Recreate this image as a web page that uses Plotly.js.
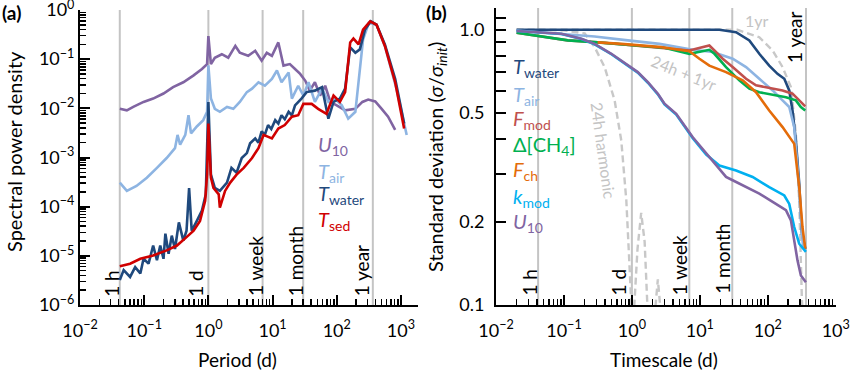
<!DOCTYPE html>
<html><head><meta charset="utf-8">
<script src="https://cdn.plot.ly/plotly-3.0.1.min.js"></script>
<style>html,body{margin:0;padding:0;background:#fff}#chart{width:850px;height:371px}</style>
</head><body><div id="chart"></div>
<script>
// reference timescales (days) and labels
const refLines = [1/24, 1, 7, 30, 365];
const refLabels = ['1 h', '1 d', '1 week', '1 month', '1 year'];

// ---------- Panel (a): spectral power density vs period (d) ----------
const u10Period = [0.0417,0.0537,0.0676,0.0977,0.138,0.200,0.282,0.407,0.589,0.794,0.955,1.0,1.096,1.26,1.62,2.04,2.63,3.09,4.17,5.37,6.76,8.13,9.77,12.3,14.8,18.6,22.4,26.9,32.4,38.0,45.7,55.0,66.1,79.4,100,135,195,251,309,398,501,631,813];
const u10Psd = [9.77e-3,9.12e-3,1.07e-2,1.35e-2,1.58e-2,2.00e-2,2.69e-2,3.39e-2,4.68e-2,6.31e-2,7.94e-2,0.295,7.94e-2,0.107,0.126,0.107,0.186,0.135,0.117,0.148,9.33e-2,0.135,0.117,0.219,7.41e-2,7.94e-2,6.31e-2,5.01e-2,3.63e-2,2.29e-2,3.39e-2,1.82e-2,2.88e-2,1.35e-2,1.15e-2,9.12e-3,9.77e-3,1.35e-2,1.51e-2,1.38e-2,9.77e-3,6.76e-3,3.63e-3];

const tairPeriod = [0.0417,0.0537,0.0759,0.110,0.158,0.224,0.302,0.331,0.363,0.437,0.490,0.537,0.661,0.832,0.955,1.0,1.096,1.26,1.51,1.95,2.45,3.09,3.98,4.79,6.03,7.59,9.77,11.7,13.8,17.8,20.0,25.1,30.2,36.3,45.7,58.9,74.1,93.3,120,151,195,229,257,316,417,562,851,1230];
const tairPsd = [3.09e-4,2.09e-4,2.63e-4,3.89e-4,6.17e-4,9.77e-4,1.55e-3,2.88e-3,1.82e-3,2.88e-3,7.24e-3,3.09e-3,4.27e-3,5.75e-3,8.51e-3,7.5e-2,1.58e-2,9.77e-3,8.51e-3,1.07e-2,9.77e-3,1.35e-2,2.14e-2,2.51e-2,3.39e-2,2.88e-2,3.98e-2,5.89e-2,3.39e-2,5.37e-2,1.58e-2,2.88e-2,1.82e-2,3.39e-2,1.35e-2,2.51e-2,1.35e-2,1.58e-2,1.15e-2,6.17e-3,8.51e-3,6.31e-2,0.251,0.550,0.501,0.186,2.51e-2,2.88e-3];

const twaterPeriod = [0.0417,0.0479,0.0603,0.0724,0.0871,0.0977,0.117,0.138,0.158,0.178,0.200,0.214,0.240,0.269,0.302,0.347,0.407,0.457,0.501,0.550,0.661,0.794,0.912,1.0,1.096,1.26,1.51,1.95,2.29,2.75,3.31,3.98,4.47,5.37,6.03,6.76,7.59,8.51,9.55,11.0,12.3,13.8,15.5,17.8,20.0,22.4,28.2,33.9,45.7,58.9,74.1,89.1,112,135,162,195,229,275,339,417,562,813,1122];
const twaterPsd = [3.24e-6,5.13e-6,3.72e-6,5.89e-6,4.37e-6,8.71e-6,6.92e-6,1.62e-5,8.13e-6,1.62e-5,8.71e-6,2.82e-5,1.10e-5,2.57e-5,1.38e-5,4.79e-5,2.04e-5,3.24e-5,2.40e-4,3.24e-5,5.13e-5,8.32e-5,1.78e-4,1.35e-2,4.47e-4,2.40e-4,2.09e-4,3.09e-4,6.17e-4,4.90e-4,9.77e-4,1.23e-3,1.95e-3,2.45e-3,2.00e-3,3.39e-3,2.90e-3,4.57e-3,3.80e-3,5.75e-3,4.90e-3,7.24e-3,6.00e-3,8.51e-3,7.2e-3,1.15e-2,1.58e-2,2.14e-2,2.29e-2,2.69e-2,6.17e-3,1.35e-2,1.58e-2,2.51e-2,0.174,0.135,0.158,0.398,0.589,0.501,0.200,3.98e-2,4.90e-3];

const tsedPeriod = [0.0417,0.0603,0.0871,0.138,0.224,0.324,0.457,0.589,0.741,0.891,0.955,1.0,1.096,1.20,1.45,1.51,1.82,2.19,2.75,3.55,4.79,6.03,7.24,9.77,12.3,15.5,20.0,25.1,30.2,40.7,51.3,69.2,89.1,112,135,162,182,219,257,331,417,562,813,1122];
const tsedPsd = [6.17e-6,6.92e-6,8.71e-6,1.02e-5,1.29e-5,1.62e-5,2.40e-5,3.24e-5,5.13e-5,1.32e-4,4.57e-4,4.90e-3,3.89e-4,2.40e-4,1.78e-4,9.55e-5,2.09e-4,3.09e-4,4.47e-4,6.17e-4,9.77e-4,1.55e-3,2.88e-3,2.45e-3,3.89e-3,4.57e-3,6.76e-3,7.24e-3,1.23e-2,1.23e-2,9.77e-3,7.76e-3,1.82e-2,1.35e-2,2.14e-2,0.219,0.263,0.200,0.398,0.589,0.501,0.186,3.39e-2,3.89e-3];

// ---------- Panel (b): normalised standard deviation vs timescale (d) ----------
const bTwaterT = [0.0201,0.1,1,10,19.4,34.1,53.5,75.0,105,139,175,207,231,259,290,318,356];
const bTwaterS = [1.0,1.0,1.0,1.0,1.0,0.98,0.915,0.818,0.741,0.692,0.664,0.602,0.509,0.396,0.277,0.182,0.16];

const bTairT = [0.0201,0.0918,0.283,0.873,2.55,7.87,15.5,30.4,47.9,75.0,118,165,207,245,274,307,332];
const bTairS = [0.994,0.967,0.946,0.915,0.889,0.846,0.830,0.785,0.732,0.664,0.602,0.554,0.524,0.443,0.317,0.209,0.16];

const bFmodT = [0.0201,0.114,0.313,1.0,3.0,7.03,8.83,11.0,13.8,16.4,21.7,30.4,47.9,67.1,105,165,231,290,356];
const bFmodS = [0.975,0.915,0.901,0.88,0.86,0.841,0.853,0.865,0.877,0.841,0.785,0.732,0.664,0.628,0.616,0.602,0.586,0.554,0.527];

const bCH4T = [0.0201,0.114,0.313,1.0,3.0,7.03,10.0,13.8,16.4,24.3,38.1,53.5,75.0,118,185,259,307,356];
const bCH4S = [0.975,0.915,0.90,0.88,0.86,0.818,0.835,0.846,0.818,0.732,0.655,0.611,0.593,0.582,0.569,0.554,0.524,0.509];

const bFchT = [0.313,0.698,2.70,7.03,9.86,13.8,24.3,42.7,67.1,105,165,245,290,324,356];
const bFchS = [0.90,0.889,0.865,0.836,0.785,0.741,0.702,0.655,0.593,0.509,0.443,0.385,0.268,0.192,0.160];

const bKmodT = [0.0201,0.0918,0.181,0.283,0.499,0.873,1.22,1.72,2.41,3.02,4.49,7.87,12.4,19.4,34.1,59.8,105,175,207,245,290,364];
const bKmodS = [0.99,0.965,0.925,0.886,0.815,0.739,0.699,0.642,0.583,0.536,0.492,0.404,0.352,0.321,0.308,0.292,0.268,0.250,0.233,0.192,0.167,0.156];

const bU10T = [0.0201,0.0918,0.181,0.283,0.499,0.873,1.22,1.72,2.41,3.02,4.49,7.87,12.4,19.4,24.3,30.4,47.9,75.0,118,185,219,245,274,307,364];
const bU10S = [0.99,0.967,0.927,0.889,0.818,0.742,0.702,0.645,0.586,0.539,0.495,0.407,0.355,0.312,0.292,0.284,0.268,0.254,0.237,0.221,0.203,0.172,0.145,0.128,0.121];

// theoretical curves (dashed grey)
const harm24T = [0.0201,0.1,0.202,0.283,0.397,0.557,0.698,0.828,0.925,1.0,null,1.06,1.21,1.37,1.54,1.72,null,2.15,2.41,2.70];
const harm24S = [1.0,0.995,0.97,0.865,0.732,0.554,0.396,0.24,0.137,0.09,null,0.09,0.16,0.216,0.17,0.09,null,0.09,0.124,0.09];
const yr1T = [0.0201,10,35.7,75.0,118,165,219,259,290,318,332];
const yr1S = [1.0,1.0,1.0,0.94,0.841,0.732,0.619,0.419,0.24,0.104,0.09];

// axis tick labels
const psdTickVals = [1e-6,1e-5,1e-4,1e-3,1e-2,1e-1,1];
const psdTickText = ['10<sup>−6</sup>','10<sup>−5</sup>','10<sup>−4</sup>','10<sup>−3</sup>','10<sup>−2</sup>','10<sup>−1</sup>','10<sup>0</sup>'];
const dayTickVals = [0.01,0.1,1,10,100,1000];
const dayTickText = ['10<sup>−2</sup>','10<sup>−1</sup>','10<sup>0</sup>','10<sup>1</sup>','10<sup>2</sup>','10<sup>3</sup>'];
const sdTickVals = [0.1,0.2,0.3,0.4,0.5,0.6,0.7,0.8,0.9,1.0,1.1];
const sdTickText = ['0.1','0.2','','','0.5','','','','','1.0',''];

const C = {u10:'#8064A2', tair:'#8DB4E2', twater:'#1F497D', tsed:'#D00000',
           fmod:'#C0504D', ch4:'#00B050', fch:'#E46C0A', kmod:'#00B0F0', grey:'#C8C8C8'};
const FONT = 'Lato, "Liberation Sans", sans-serif';
const LW = 2.6;

function line(x, y, color, xa, ya, extra) {
  return Object.assign({x: x, y: y, type: 'scatter', mode: 'lines', xaxis: xa, yaxis: ya,
    line: {color: color, width: LW}, hoverinfo: 'skip', showlegend: false, connectgaps: false}, extra || {});
}

const traces = [
  line(u10Period, u10Psd, C.u10, 'x', 'y'),
  line(tairPeriod, tairPsd, C.tair, 'x', 'y'),
  line(twaterPeriod, twaterPsd, C.twater, 'x', 'y'),
  line(tsedPeriod, tsedPsd, C.tsed, 'x', 'y'),
  line(harm24T, harm24S, C.grey, 'x2', 'y2', {line: {color: C.grey, width: 2.4, dash: '7px,4px'}}),
  line(yr1T, yr1S, C.grey, 'x2', 'y2', {line: {color: C.grey, width: 2.4, dash: '7px,4px'}}),
  line(bTwaterT, bTwaterS, C.twater, 'x2', 'y2'),
  line(bTairT, bTairS, C.tair, 'x2', 'y2'),
  line(bFmodT, bFmodS, C.fmod, 'x2', 'y2'),
  line(bCH4T, bCH4S, C.ch4, 'x2', 'y2'),
  line(bFchT, bFchS, C.fch, 'x2', 'y2'),
  line(bKmodT, bKmodS, C.kmod, 'x2', 'y2'),
  line(bU10T, bU10S, C.u10, 'x2', 'y2')
];

const W = 850, H = 371;
const px = v => v / W, py = v => 1 - v / H;
const yDomA = [py(305), py(10)];
const yDomB = [py(305), py(8)];

// minor tick positions (2..9 within each decade)
function minorVals(k0, k1) {
  const out = [];
  for (let k = k0; k <= k1; k++) for (let m = 2; m <= 9; m++) out.push(m * Math.pow(10, k));
  return out;
}
const minorStyle = {ticks: 'inside', ticklen: 6, tickwidth: 1.5, tickcolor: '#000', showgrid: false, tickmode: 'array'};

const axCommon = {
  type: 'log', showgrid: false, zeroline: false, showline: true, linecolor: '#000', linewidth: 2,
  ticks: 'inside', ticklen: 10, tickwidth: 2, tickcolor: '#000', tickmode: 'array',
  ticklabeloverflow: 'allow',
  tickfont: {family: FONT, size: 18, color: '#000'}
};

const shapes = [];
const annotations = [];
['x', 'x2'].forEach(function (xa) {
  const ya = xa === 'x' ? 'y' : 'y2';
  refLines.forEach(function (v) {
    shapes.push({type: 'line', xref: xa, yref: ya + ' domain', x0: v, x1: v,
      y0: 0, y1: 1, line: {color: '#C4C4C4', width: 2}, layer: 'below'});
  });
});

// vertical labels next to the reference lines (centre positions in px)
const labA = {dx: [-9, -13, -7.5, -8, -11.5], yc: [283, 283.5, 266, 261, 271]};
const labB = {dx: [-9, -13, -10, -10.5, -11.5], yc: [282.5, 281.5, 265, 259, 37.5]};
refLines.forEach(function (v, i) {
  annotations.push({xref: 'x', yref: 'paper', x: Math.log10(v), y: py(labA.yc[i]), xanchor: 'center', yanchor: 'middle',
    xshift: labA.dx[i], text: refLabels[i], textangle: -90, showarrow: false, font: {family: FONT, size: 19, color: '#000'}});
  annotations.push({xref: 'x2', yref: 'paper', x: Math.log10(v), y: py(labB.yc[i]), xanchor: 'center', yanchor: 'middle',
    xshift: labB.dx[i], text: refLabels[i], textangle: -90, showarrow: false, font: {family: FONT, size: 19, color: '#000'}});
});

function txt(x, y, text, size, color, extra) {
  return Object.assign({xref: 'paper', yref: 'paper', x: px(x), y: py(y), text: text, showarrow: false,
    font: {family: FONT, size: size, color: color}}, extra || {});
}

annotations.push(
  txt(0, 12, '<b>(a)</b>', 19, '#000', {xanchor: 'left', yanchor: 'middle'}),
  txt(424, 12, '<b>(b)</b>', 19, '#000', {xanchor: 'left', yanchor: 'middle'}),
  txt(14, 152, 'Spectral power density', 20, '#000', {textangle: -90, xanchor: 'center', yanchor: 'middle'}),
  txt(237, 359, 'Period (d)', 19, '#000', {xanchor: 'center', yanchor: 'middle'}),
  txt(437, 157, 'Standard deviation (<i>σ</i>/<i>σ</i><sub><i>init</i></sub>)', 20, '#000', {textangle: -90, xanchor: 'center', yanchor: 'middle'}),
  txt(664, 359, 'Timescale (d)', 19, '#000', {xanchor: 'center', yanchor: 'middle'}),
  // legend (a)
  txt(316, 145, '<i>U</i><sub>10</sub>', 20, C.u10, {xanchor: 'left', yanchor: 'middle'}),
  txt(316, 172, '<i>T</i><sub>air</sub>', 20, C.tair, {xanchor: 'left', yanchor: 'middle'}),
  txt(316, 195, '<i>T</i><sub>water</sub>', 20, C.twater, {xanchor: 'left', yanchor: 'middle'}),
  txt(316, 221, '<i>T</i><sub>sed</sub>', 20, C.tsed, {xanchor: 'left', yanchor: 'middle'}),
  // legend (b)
  txt(511, 68, '<i>T</i><sub>water</sub>', 20, C.twater, {xanchor: 'left', yanchor: 'middle'}),
  txt(511, 95, '<i>T</i><sub>air</sub>', 20, C.tair, {xanchor: 'left', yanchor: 'middle'}),
  txt(511, 120, '<i>F</i><sub>mod</sub>', 20, C.fmod, {xanchor: 'left', yanchor: 'middle'}),
  txt(511, 145, 'Δ[CH<sub>4</sub>]', 20, C.ch4, {xanchor: 'left', yanchor: 'middle'}),
  txt(511, 171, '<i>F</i><sub>ch</sub>', 20, C.fch, {xanchor: 'left', yanchor: 'middle'}),
  txt(511, 197, '<i>k</i><sub>mod</sub>', 20, C.kmod, {xanchor: 'left', yanchor: 'middle'}),
  txt(511, 222, '<i>U</i><sub>10</sub>', 20, C.u10, {xanchor: 'left', yanchor: 'middle'}),
  // grey curve labels
  txt(757, 21, '1yr', 16, '#C4C4C4', {xanchor: 'center', yanchor: 'middle'}),
  txt(684, 72, '24h + 1yr', 16, '#C4C4C4', {xanchor: 'center', yanchor: 'middle', textangle: 22}),
  txt(603, 150, '24h harmonic', 16, '#C4C4C4', {xanchor: 'center', yanchor: 'middle', textangle: 82})
);

const layout = {
  width: W, height: H, margin: {l: 0, r: 0, t: 0, b: 0},
  paper_bgcolor: '#fff', plot_bgcolor: 'rgba(0,0,0,0)', showlegend: false,
  font: {family: FONT, color: '#000'},
  xaxis: Object.assign({}, axCommon, {domain: [px(80), px(418)], range: [-2, 3.266], anchor: 'y',
    tickvals: dayTickVals, ticktext: dayTickText,
    ticklabelstandoff: 8, minor: Object.assign({tickvals: minorVals(-2, 3)}, minorStyle)}),
  yaxis: Object.assign({}, axCommon, {domain: yDomA, range: [-6, 0], anchor: 'x',
    tickvals: psdTickVals, ticktext: psdTickText,
    minor: Object.assign({tickvals: minorVals(-6, -1)}, minorStyle)}),
  xaxis2: Object.assign({}, axCommon, {domain: [px(496), px(836)], range: [-2, 3.004], anchor: 'y2',
    tickvals: dayTickVals, ticktext: dayTickText,
    ticklabelstandoff: 8, minor: Object.assign({tickvals: minorVals(-2, 2)}, minorStyle)}),
  yaxis2: Object.assign({}, axCommon, {domain: yDomB, range: [-1, Math.log10(1.2)], anchor: 'x2',
    tickvals: sdTickVals, ticktext: sdTickText, ticklabelstandoff: 6}),
  shapes: shapes,
  annotations: annotations
};

Plotly.newPlot('chart', traces, layout, {staticPlot: true, displayModeBar: false});
</script>
</body></html>
